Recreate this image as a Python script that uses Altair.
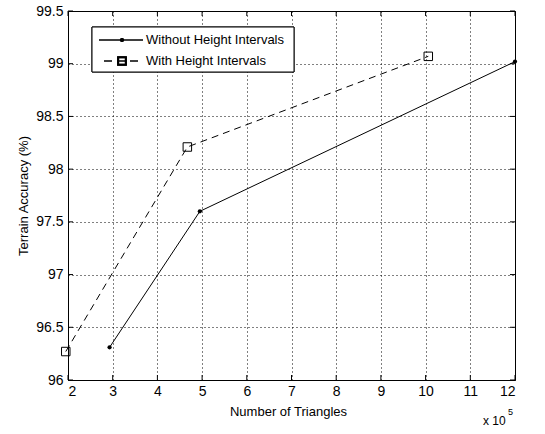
import altair as alt
import pandas as pd

# Data (x in units of 10^5 triangles)
without_x = [2.93, 4.95, 12.0]
without_y = [96.31, 97.60, 99.02]
with_x = [1.95, 4.67, 10.06]
with_y = [96.27, 98.21, 99.07]

x_ticks = [2, 3, 4, 5, 6, 7, 8, 9, 10, 11, 12]
y_ticks = [96, 96.5, 97, 97.5, 98, 98.5, 99, 99.5]

legend_labels = ["Without Height Intervals", "With Height Intervals"]

W, H = 447, 369
FONT = "Liberation Sans"

df_wo = pd.DataFrame({"x": without_x, "y": without_y})
df_w = pd.DataFrame({"x": with_x, "y": with_y})
df_xt = pd.DataFrame({"x": x_ticks})
df_yt = pd.DataFrame({"y": y_ticks})

xs = alt.Scale(domain=[2, 12], nice=False, zero=False)
ys = alt.Scale(domain=[96, 99.5], nice=False, zero=False)

x_axis = alt.Axis(
    values=x_ticks, grid=True, gridDash=[1, 3], gridColor="#000000", gridOpacity=1,
    ticks=False, domain=False, labelFont=FONT, labelFontSize=14, labelColor="#000000",
    labelPadding=4, labelExpr="datum.value + ''",
    title="Number of Triangles", titleFont=FONT, titleFontSize=13,
    titleFontWeight="normal", titleColor="#000000", titleX=220, titleY=31,
    titleBaseline="middle",
)
y_axis = alt.Axis(
    values=y_ticks, grid=True, gridDash=[1, 3], gridColor="#000000", gridOpacity=1,
    ticks=False, domain=False, labelFont=FONT, labelFontSize=14, labelColor="#000000",
    labelPadding=5, labelExpr="datum.value + ''",
    title="Terrain Accuracy (%)", titleFont=FONT, titleFontSize=13,
    titleFontWeight="normal", titleColor="#000000", titleX=-45, titleY=H / 2,
    titleAngle=-90, titleBaseline="middle", titleAlign="center",
)

base_grid = alt.Chart(df_wo).mark_point(opacity=0).encode(
    x=alt.X("x:Q", scale=xs, axis=x_axis),
    y=alt.Y("y:Q", scale=ys, axis=y_axis),
)

# inward ticks
tk = 5
xt_bottom = alt.Chart(df_xt).mark_rule(color="black").encode(
    x=alt.X("x:Q", scale=xs), y=alt.value(H), y2=alt.value(H - tk))
xt_top = alt.Chart(df_xt).mark_rule(color="black").encode(
    x=alt.X("x:Q", scale=xs), y=alt.value(0), y2=alt.value(tk))
yt_left = alt.Chart(df_yt).mark_rule(color="black").encode(
    y=alt.Y("y:Q", scale=ys), x=alt.value(0), x2=alt.value(tk))
yt_right = alt.Chart(df_yt).mark_rule(color="black").encode(
    y=alt.Y("y:Q", scale=ys), x=alt.value(W), x2=alt.value(W - tk))

line_wo = alt.Chart(df_wo).mark_line(color="black", strokeWidth=1).encode(
    x=alt.X("x:Q", scale=xs), y=alt.Y("y:Q", scale=ys))
pts_wo = alt.Chart(df_wo).mark_point(filled=True, color="black", size=18, shape="circle", opacity=1).encode(
    x=alt.X("x:Q", scale=xs), y=alt.Y("y:Q", scale=ys))
line_w = alt.Chart(df_w).mark_line(color="black", strokeWidth=1, strokeDash=[7, 5]).encode(
    x=alt.X("x:Q", scale=xs), y=alt.Y("y:Q", scale=ys))
pts_w = alt.Chart(df_w).mark_point(filled=False, color="black", size=72, shape="square",
                                   strokeWidth=1, opacity=1).encode(
    x=alt.X("x:Q", scale=xs), y=alt.Y("y:Q", scale=ys))

# manual legend (layout positions in pixels)
leg_df = pd.DataFrame({"label": legend_labels})
leg_box = alt.Chart(leg_df).mark_rect(fill="white", stroke="black", strokeWidth=1).encode(
    x=alt.value(24), x2=alt.value(226), y=alt.value(16), y2=alt.value(61))
leg_l1 = alt.Chart(leg_df).mark_rule(color="black", strokeWidth=1).encode(
    x=alt.value(31), x2=alt.value(75), y=alt.value(29))
leg_p1 = alt.Chart(leg_df).mark_point(filled=True, color="black", size=18, opacity=1).encode(
    x=alt.value(54), y=alt.value(29))
leg_l2 = alt.Chart(leg_df).mark_rule(color="black", strokeWidth=1, strokeDash=[8, 5]).encode(
    x=alt.value(36), x2=alt.value(75), y=alt.value(50))
leg_p2 = alt.Chart(leg_df).mark_point(filled=False, color="black", size=60, shape="square", opacity=1).encode(
    x=alt.value(54), y=alt.value(50))
leg_t1 = alt.Chart(pd.DataFrame({"label": [legend_labels[0]]})).mark_text(
    align="left", baseline="middle", font=FONT, fontSize=13, color="black").encode(
    x=alt.value(78), y=alt.value(29), text="label:N")
leg_t2 = alt.Chart(pd.DataFrame({"label": [legend_labels[1]]})).mark_text(
    align="left", baseline="middle", font=FONT, fontSize=13, color="black").encode(
    x=alt.value(78), y=alt.value(50), text="label:N")

# exponent label
exp_t = alt.Chart(pd.DataFrame({"t": ["x 10"]})).mark_text(
    align="left", baseline="middle", font=FONT, fontSize=12, color="black").encode(
    x=alt.value(415), y=alt.value(410), text="t:N")
exp_s = alt.Chart(pd.DataFrame({"t": ["5"]})).mark_text(
    align="left", baseline="middle", font=FONT, fontSize=9, color="black").encode(
    x=alt.value(440), y=alt.value(401), text="t:N")

chart = alt.layer(
    base_grid, xt_bottom, xt_top, yt_left, yt_right,
    line_w, line_wo, pts_wo, pts_w,
    leg_box, leg_l1, leg_p1, leg_l2, leg_p2, leg_t1, leg_t2,
    exp_t, exp_s,
).properties(
    width=W, height=H,
    autosize=alt.AutoSizeParams(type="none"),
    padding={"left": 68, "top": 11, "right": 30, "bottom": 54},
    background="white",
).configure_view(stroke="black", strokeWidth=1)

chart.save("out.html", embed_options={"renderer": "svg", "actions": False})
